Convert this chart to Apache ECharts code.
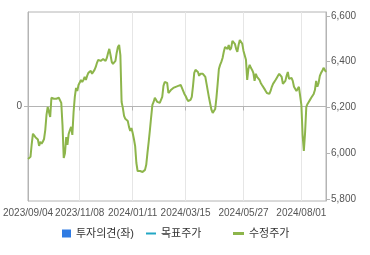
<!DOCTYPE html>
<html><head><meta charset="utf-8">
<script src="https://cdn.jsdelivr.net/npm/echarts@6/dist/echarts.min.js"></script>
<style>html,body{margin:0;padding:0;background:#fff}#c{width:370px;height:255px}</style>
</head><body><div id="c"></div>
<script>
const tradingDays = [
 ['2023/09', [4,5,6,7,8,11,12,13,14,15,18,19,20,21,22,25,26,27]],
 ['2023/10', [4,5,6,10,11,12,13,16,17,18,19,20,23,24,25,26,27,30,31]],
 ['2023/11', [1,2,3,6,7,8,9,10,13,14,15,16,17,20,21,22,23,24,27,28,29,30]],
 ['2023/12', [1,4,5,6,7,8,11,12,13,14,15,18,19,20,21,22,26,27,28]],
 ['2024/01', [2,3,4,5,8,9,10,11,12,15,16,17,18,19,22,23,24,25,26,29,30,31]],
 ['2024/02', [1,2,5,6,7,8,13,14,15,16,19,20,21,22,23,26,27,28,29]],
 ['2024/03', [4,5,6,7,8,11,12,13,14,15,18,19,20,21,22,25,26,27,28,29]],
 ['2024/04', [1,2,3,4,5,8,9,11,12,15,16,17,18,19,22,23,24,25,26,29,30]],
 ['2024/05', [2,3,7,8,9,10,13,14,16,17,20,21,22,23,24,27,28,29,30,31]],
 ['2024/06', [3,4,5,7,10,11,12,13,14,17,18,19,20,21,24,25,26,27,28]],
 ['2024/07', [1,2,3,4,5,8,9,10,11,12,15,16,17,18,19,22,23,24,25,26,29,30,31]],
 ['2024/08', [1,2,5,6,7,8,9,12,13,14,16,19,20,21,22,23,26,27,28,29,30]]
];
const tickLabels = ['2023/09/04','2023/11/08','2024/01/11','2024/03/15','2024/05/27','2024/08/01'];
const rightTicks = [5800,6000,6200,6400,6600];
const leftTicks = [0];
const opinion = [];
const target = [];
const adjPrice = [
 5975,5977,5984,6040,6085,6080,6070,6071,6060,6032,
 6050,6041,6050,6062,6101,6167,6202,6180,6158,6242,
 6246,6238,6233,6238,6233,6242,6238,6220,6123,5979,
 6000,6070,6036,6084,6101,6115,6080,6180,6246,6285,
 6272,6298,6290,6320,6311,6320,6333,6320,6338,6351,
 6355,6360,6347,6355,6364,6377,6395,6408,6416,6403,
 6408,6412,6408,6403,6416,6438,6456,6429,6399,6390,
 6390,6403,6438,6464,6473,6429,6224,6198,6163,6150,
 6150,6141,6115,6097,6110,6088,6062,6031,5957,5922,
 5918,5922,5927,5918,5914,5927,5949,6001,6049,6102,
 6158,6211,6224,6242,6238,6224,6220,6220,6224,6246,
 6294,6311,6316,6307,6263,6268,6276,6281,6285,6285,
 6290,6290,6294,6294,6298,6290,6272,6259,6250,6238,
 6228,6233,6233,6246,6294,6351,6364,6360,6355,6338,
 6347,6355,6347,6342,6333,6303,6272,6242,6215,6189,
 6176,6172,6193,6242,6303,6368,6386,6399,6416,6443,
 6464,6469,6456,6473,6451,6460,6491,6491,6478,6456,
 6443,6473,6495,6491,6478,6447,6447,6408,6320,6368,
 6386,6373,6364,6351,6316,6347,6333,6329,6320,6307,
 6298,6290,6281,6272,6263,6255,6259,6272,6290,6303,
 6311,6320,6329,6338,6347,6347,6333,6303,6298,6316,
 6338,6355,6325,6329,6329,6316,6290,6285,6272,6281,
 6290,6294,6211,6080,6010,6088,6202,6215,6224,6233,
 6242,6250,6259,6276,6316,6290,6307,6338,6351,6360,
 6373,6377,6355
];
const dates = [];
tradingDays.forEach(([ym, days]) => days.forEach(d => dates.push(ym + '/' + String(d).padStart(2,'0'))));

const FONT = "'Liberation Sans', 'Noto Sans CJK KR', sans-serif";
const showTick = (i, v) => tickLabels.includes(v);
const showSplit = (i, v) => tickLabels.includes(v) && i !== 0;

const chart = echarts.init(document.getElementById('c'), null, {renderer:'canvas'});
chart.setOption({
  animation: false,
  textStyle: {fontFamily: FONT},
  grid: {left: 27, right: 44, top: 12, bottom: 54, show: true, borderColor: '#b4b4b4', borderWidth: 1, backgroundColor: 'transparent'},
  legend: [
    {data: [{name: '투자의견(좌)', icon: 'rect'}], left: 62, top: 228, padding: 0, itemWidth: 9, itemHeight: 8,
     textStyle: {fontSize: 11, color: '#333', fontFamily: FONT}},
    {data: [{name: '목표주가', icon: 'rect'}], left: 146, top: 228, padding: 0, itemWidth: 10, itemHeight: 2,
     textStyle: {fontSize: 11, color: '#333', fontFamily: FONT}},
    {data: [{name: '수정주가', icon: 'rect'}], left: 233, top: 228, padding: 0, itemWidth: 11, itemHeight: 3,
     textStyle: {fontSize: 11, color: '#333', fontFamily: FONT}}
  ],
  xAxis: {
    type: 'category', data: dates, boundaryGap: false,
    axisLine: {lineStyle: {color: '#b4b4b4'}},
    axisTick: {interval: showTick, length: 4, lineStyle: {color: '#b4b4b4'}},
    axisLabel: {interval: showTick, margin: 7, fontSize: 10, color: '#555', fontFamily: FONT, hideOverlap: false},
    splitLine: {show: true, interval: showSplit, lineStyle: {color: '#e6e6e6'}}
  },
  yAxis: [
    {type: 'value', position: 'left', min: -1, max: 1, interval: 1,
     axisLine: {show: true, lineStyle: {color: '#b4b4b4'}},
     axisTick: {show: true, length: 4, customValues: leftTicks, lineStyle: {color: '#b4b4b4'}},
     axisLabel: {customValues: leftTicks, margin: 6, fontSize: 10, color: '#555', fontFamily: FONT},
     splitLine: {show: true, lineStyle: {color: '#e6e6e6'}}},
    {type: 'value', position: 'right', min: 5791, max: 6617,
     axisLine: {show: true, lineStyle: {color: '#b4b4b4'}},
     axisTick: {show: true, length: 4, customValues: rightTicks, lineStyle: {color: '#b4b4b4'}},
     axisLabel: {customValues: rightTicks, margin: 5, fontSize: 10, color: '#555', fontFamily: FONT,
       formatter: v => v.toLocaleString('en-US')},
     splitLine: {show: false}}
  ],
  series: [
    {name: '투자의견(좌)', type: 'bar', yAxisIndex: 0, data: opinion, itemStyle: {color: '#2f7be3'}},
    {name: '목표주가', type: 'line', yAxisIndex: 1, data: target, itemStyle: {color: '#22a7c4'}, lineStyle: {color: '#22a7c4'}},
    {name: '수정주가', type: 'line', yAxisIndex: 1, data: adjPrice, showSymbol: false, symbol: 'none',
     itemStyle: {color: '#8db54b'}, lineStyle: {color: '#8db54b', width: 2}}
  ]
});
</script></body></html>
